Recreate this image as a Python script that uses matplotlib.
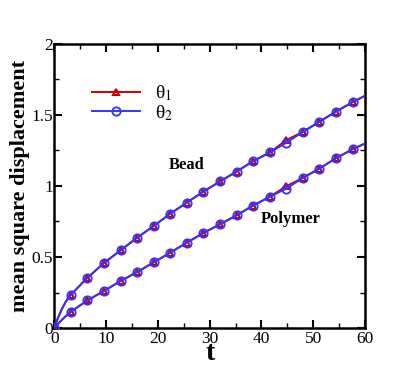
import matplotlib
matplotlib.use("Agg")
import matplotlib.pyplot as plt
from matplotlib.ticker import MultipleLocator

plt.rcParams.update({
    "font.family": ["Liberation Serif", "DejaVu Serif"],
    "mathtext.fontset": "stix",
})

# DATA

# marker times
t_marks = [0, 3.2, 6.4, 9.6, 12.8, 16.0, 19.2, 22.4, 25.6, 28.8, 32.0,
           35.2, 38.4, 41.6, 44.8, 48.0, 51.2, 54.4, 57.6]

bead_theta1 = [0, 0.235, 0.354, 0.458, 0.547, 0.636, 0.718, 0.805, 0.883, 0.960,
               1.031, 1.101, 1.174, 1.235, 1.322, 1.380, 1.451, 1.523, 1.589]
bead_theta2 = [0, 0.235, 0.354, 0.458, 0.547, 0.636, 0.718, 0.805, 0.883, 0.960,
               1.031, 1.101, 1.174, 1.235, 1.303, 1.380, 1.451, 1.523, 1.589]
poly_theta1 = [0, 0.115, 0.195, 0.261, 0.331, 0.394, 0.462, 0.531, 0.601, 0.669,
               0.730, 0.793, 0.862, 0.923, 0.998, 1.056, 1.122, 1.195, 1.258]
poly_theta2 = [0, 0.115, 0.195, 0.261, 0.331, 0.394, 0.462, 0.531, 0.601, 0.669,
               0.730, 0.793, 0.862, 0.923, 0.981, 1.056, 1.122, 1.195, 1.258]

# extra line points (early rise and end of curve)
t_early = [0.4, 0.8, 1.4, 2.2]
bead_early = [0.045, 0.08, 0.13, 0.185]
poly_early = [0.018, 0.034, 0.056, 0.083]
t_end = 60
bead_end = 1.634
poly_end = 1.298

labels = ["θ$_1$", "θ$_2$"]


def line_pts(early, marks, end):
    ts = [t_marks[0]] + t_early + t_marks[1:] + [t_end]
    ys = [marks[0]] + early + marks[1:] + [end]
    return ts, ys


# PLOTTING

fig = plt.figure(figsize=(4.15, 3.69), dpi=100)
ax = fig.add_axes([0.131, 0.111, 0.7485, 0.7705])

red = "#cc0000"
blue = "#3333ff"

for early, marks, end in [(bead_early, bead_theta1, bead_end), (poly_early, poly_theta1, poly_end)]:
    ts, ys = line_pts(early, marks, end)
    ax.plot(ts, ys, color=red, lw=1.4, zorder=2)
    ax.plot(t_marks, marks, ls="none", marker="^", ms=4.5, mfc="none",
            mec=red, mew=1.5, zorder=3)

for early, marks, end in [(bead_early, bead_theta2, bead_end), (poly_early, poly_theta2, poly_end)]:
    ts, ys = line_pts(early, marks, end)
    ax.plot(ts, ys, color=blue, lw=1.4, zorder=4)
    ax.plot(t_marks, marks, ls="none", marker="o", ms=6, mfc="none",
            mec=blue, mew=1.3, zorder=5)

# legend
h1, = ax.plot([], [], color=red, lw=1.4, marker="^", ms=5, mfc="none", mec=red, mew=1.5)
h2, = ax.plot([], [], color=blue, lw=1.4, marker="o", ms=6, mfc="none", mec=blue, mew=1.3)
leg = ax.legend([h1, h2], labels, loc="upper left",
                bbox_to_anchor=(0.121, 0.86), frameon=False, fontsize=14,
                borderpad=0, borderaxespad=0,
                handlelength=2.45, handletextpad=0.8, labelspacing=0.0)

ax.text(25.6, 1.148, "Bead", fontsize=12, fontweight="bold", ha="center", va="center")
ax.text(45.7, 0.768, "Polymer", fontsize=12, fontweight="bold", ha="center", va="center")

ax.set_xlim(0, 60)
ax.set_ylim(0, 2)
ax.xaxis.set_major_locator(MultipleLocator(10))
ax.xaxis.set_minor_locator(MultipleLocator(5))
ax.yaxis.set_major_locator(MultipleLocator(0.5))
ax.yaxis.set_minor_locator(MultipleLocator(0.25))
ax.yaxis.set_major_formatter(plt.FuncFormatter(lambda v, _: f"{v:g}"))

ax.tick_params(which="both", direction="in", top=True, right=True, labelsize=12.5)
ax.tick_params(which="major", length=6, width=1.5)
ax.tick_params(which="minor", length=3.5, width=1)
ax.tick_params(axis="y", pad=1)
ax.tick_params(axis="x", pad=2)
for s in ax.spines.values():
    s.set_linewidth(1.8)

ax.set_xlabel("t", fontsize=20, fontweight="bold", labelpad=-4)
ax.set_ylabel("mean square displacement", fontsize=16, fontweight="bold", labelpad=1)

plt.savefig("out.png", dpi=100)
